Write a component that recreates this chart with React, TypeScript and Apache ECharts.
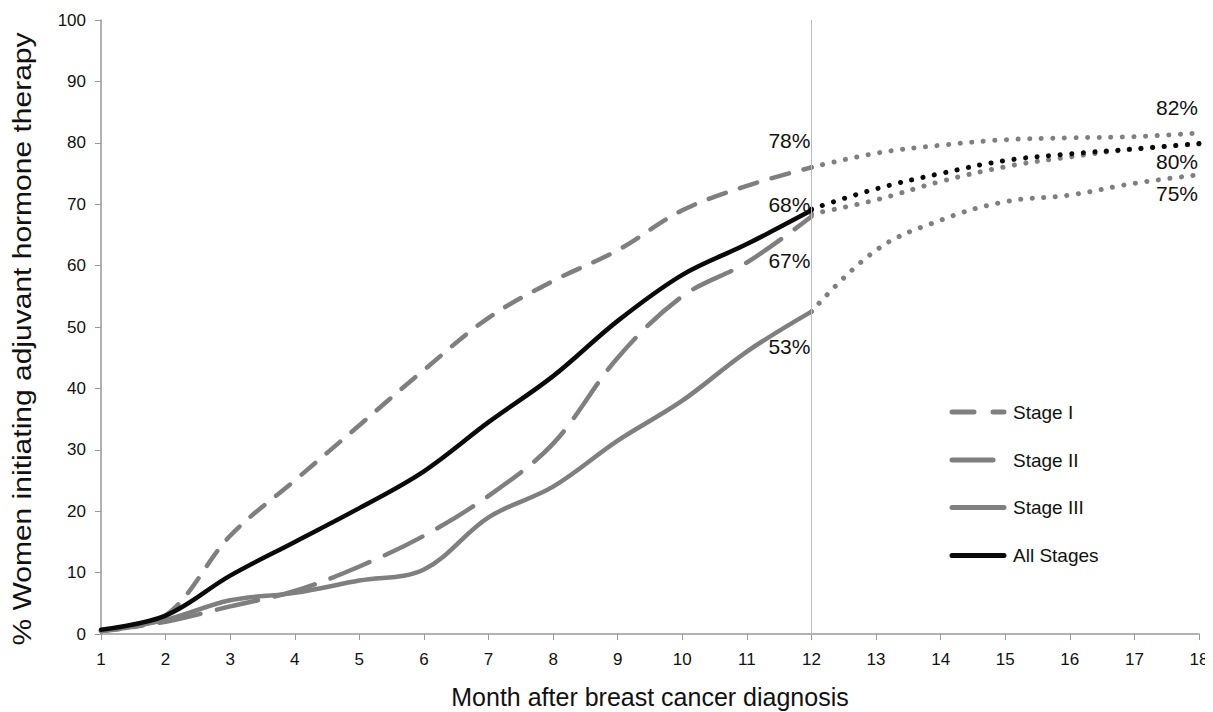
import React, { useEffect, useRef } from "react";
import * as echarts from "echarts";

const months = [1, 2, 3, 4, 5, 6, 7, 8, 9, 10, 11, 12];
const extMonths = [12, 13, 14, 15, 16, 17, 18];

const stageI = [0.5, 3, 16, 25, 34, 43, 51.5, 57.5, 62.5, 69, 73, 76];
const stageII = [0.5, 2, 4.5, 7, 11, 16, 22.5, 31, 45, 55, 60.5, 68];
const stageIII = [0.5, 2.3, 5.5, 6.7, 8.7, 10.5, 19, 24, 31.5, 38, 46, 52.5];
const allStages = [0.7, 3, 9.5, 15, 20.5, 26.5, 34.5, 42, 51, 58.5, 63.5, 69];

const stageIExt = [76, 78.3, 79.6, 80.5, 80.8, 81, 81.6];
const stageIIExt = [68.4, 70.7, 73.7, 76.1, 77.7, 79, 79.8];
const stageIIIExt = [52.5, 62.5, 67.4, 70.4, 71.5, 73.4, 74.8];
const allStagesExt = [69.2, 72.5, 75, 77.1, 78.2, 79, 79.9];

const annotTexts = ["78%", "68%", "67%", "53%", "82%", "80%", "75%"];
const annotX = [12, 12, 12, 12, 18, 18, 18];
const annotY = [80.4, 70.0, 60.9, 46.9, 85.7, 76.9, 71.7];

const legendNames = ["Stage I", "Stage II", "Stage III", "All Stages"];
const yTicks = [0, 10, 20, 30, 40, 50, 60, 70, 80, 90, 100];

const GREY = "#7f7f7f";
const BLACK = "#0a0a0a";
const FONT = "Liberation Sans, Arial, sans-serif";

function pair(xs: number[], ys: number[]) {
  return xs.map((x, i) => [x, ys[i]]);
}

export default function App() {
  const ref = useRef<HTMLDivElement>(null);
  useEffect(() => {
    if (!ref.current) return;
    const chart = echarts.init(ref.current, null, { renderer: "svg" });
    const dotted = { type: [0.1, 11.5] as any, cap: "round" as any, width: 5 };

    const legendStyles = [
      { stroke: GREY, lineDash: [22, 19], x2: 1006 },
      { stroke: GREY, lineDash: null, x2: 995 },
      { stroke: GREY, lineDash: null, x2: 1006 },
      { stroke: BLACK, lineDash: null, x2: 1006 },
    ];
    const legendYs = [412, 460, 507.5, 555.5];
    const legendGraphics: any[] = [];
    legendNames.forEach((name, i) => {
      const s = legendStyles[i];
      legendGraphics.push({
        type: "line",
        shape: { x1: 952, y1: legendYs[i], x2: s.x2 - 2, y2: legendYs[i] },
        style: {
          stroke: s.stroke,
          lineWidth: 5,
          lineCap: "round",
          lineDash: s.lineDash || undefined,
        },
        silent: true,
      });
      legendGraphics.push({
        type: "text",
        x: 1013,
        y: legendYs[i],
        style: {
          text: name,
          font: `19px ${FONT}`,
          fill: "#111",
          textAlign: "left",
          textVerticalAlign: "middle",
        },
        silent: true,
      });
    });

    chart.setOption({
      animation: false,
      backgroundColor: "#ffffff",
      grid: { left: 101, right: 14, top: 20, bottom: 78, outerBoundsMode: "none", containLabel: false },
      graphic: [
        {
          type: "text",
          x: 22,
          y: 339,
          rotation: Math.PI / 2,
          scaleX: 1.2,
          style: {
            text: "% Women initiating adjuvant hormone therapy",
            font: `25px ${FONT}`,
            fill: "#111",
            textAlign: "center",
            textVerticalAlign: "middle",
          },
          silent: true,
        },
        ...legendGraphics,
      ],
      xAxis: {
        type: "value",
        min: 1,
        max: 18,
        interval: 1,
        name: "Month after breast cancer diagnosis",
        nameLocation: "middle",
        nameGap: 50,
        nameTextStyle: { fontFamily: FONT, fontSize: 25, color: "#111" },
        axisLine: { lineStyle: { color: "#999", width: 1.5 } },
        axisTick: { show: true, length: 6, lineStyle: { color: "#999" } },
        axisLabel: { fontFamily: FONT, fontSize: 17, color: "#111", margin: 17 },
        splitLine: { show: false },
      },
      yAxis: {
        type: "value",
        min: 0,
        max: 100,
        interval: 10,
        axisLine: { show: true, lineStyle: { color: "#999", width: 1.5 } },
        axisTick: { show: true, length: 6, lineStyle: { color: "#999" } },
        axisLabel: {
          fontFamily: FONT,
          fontSize: 17,
          color: "#111",
          margin: 15,
          formatter: (v: number) => (yTicks.includes(v) ? String(v) : ""),
        },
        splitLine: { show: false },
      },
      series: [
        {
          name: "Stage I",
          type: "line",
          smooth: 0.35,
          symbol: "none",
          data: pair(months, stageI),
          itemStyle: { color: GREY },
          lineStyle: { color: GREY, width: 4.5, type: [18, 15], cap: "round" },
          markLine: {
            silent: true,
            symbol: "none",
            label: { show: false },
            lineStyle: { color: "#bdbdbd", width: 1, type: "solid" },
            data: [{ xAxis: 12 }],
          },
          z: 3,
        },
        {
          name: "Stage II",
          type: "line",
          smooth: 0.35,
          symbol: "none",
          data: pair(months, stageII),
          itemStyle: { color: GREY },
          lineStyle: { color: GREY, width: 4.5, type: [42, 17], cap: "round" },
          z: 3,
        },
        {
          name: "Stage III",
          type: "line",
          smooth: 0.35,
          symbol: "none",
          data: pair(months, stageIII),
          itemStyle: { color: GREY },
          lineStyle: { color: GREY, width: 4.5, cap: "round" },
          z: 3,
        },
        {
          name: "All Stages",
          type: "line",
          smooth: 0.35,
          symbol: "none",
          data: pair(months, allStages),
          itemStyle: { color: BLACK },
          lineStyle: { color: BLACK, width: 4.5, cap: "round" },
          z: 4,
        },
        {
          name: "Stage I ext",
          type: "line",
          smooth: 0.4,
          symbol: "none",
          data: pair(extMonths, stageIExt),
          lineStyle: { color: GREY, ...dotted },
          z: 3,
        },
        {
          name: "Stage II ext",
          type: "line",
          smooth: 0.4,
          symbol: "none",
          data: pair(extMonths, stageIIExt),
          lineStyle: { color: GREY, ...dotted },
          z: 3,
        },
        {
          name: "Stage III ext",
          type: "line",
          smooth: 0.4,
          symbol: "none",
          data: pair(extMonths, stageIIIExt),
          lineStyle: { color: GREY, ...dotted },
          z: 3,
        },
        {
          name: "All Stages ext",
          type: "line",
          smooth: 0.4,
          symbol: "none",
          data: pair(extMonths, allStagesExt),
          lineStyle: { color: BLACK, ...dotted },
          z: 4,
        },
        {
          name: "annotations",
          type: "scatter",
          symbolSize: 0,
          silent: true,
          z: 5,
          itemStyle: { opacity: 1 },
          data: annotX.map((x, i) => ({
            value: [x, annotY[i]],
            label: {
              show: true,
              formatter: annotTexts[i],
              position: "left",
              distance: 1,
              fontFamily: FONT,
              fontSize: 21,
              color: "#111",
              opacity: 1,
            },
          })),
        },
      ],
    });
    return () => chart.dispose();
  }, []);
  return <div ref={ref} style={{ width: 1213, height: 712, margin: "-8px 0 0 -8px" }} />;
}
